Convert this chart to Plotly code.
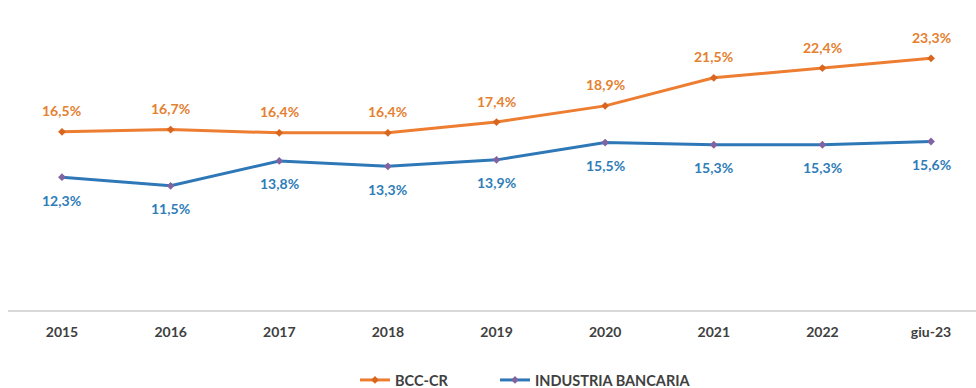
import plotly.graph_objects as go

categories = ["2015", "2016", "2017", "2018", "2019", "2020", "2021", "2022", "giu-23"]
bcc_cr = [16.5, 16.7, 16.4, 16.4, 17.4, 18.9, 21.5, 22.4, 23.3]
industria = [12.3, 11.5, 13.8, 13.3, 13.9, 15.5, 15.3, 15.3, 15.6]

ORANGE = "#ED7D31"
ORANGE_TXT = "#E5802F"
BLUE = "#2E78B7"
BLUE_TXT = "#2E7DB8"
LEG_FONT = dict(family="Lato", size=14.5, color="#404040", weight="bold")

def fmt(v):
    return f"{v:.1f}".replace(".", ",") + "%"

fig = go.Figure()
fig.add_trace(go.Scatter(
    x=categories, y=bcc_cr, name="BCC-CR", mode="lines+markers",
    line=dict(color=ORANGE, width=3),
    marker=dict(color="#D9661F", size=6, symbol="diamond"),
    legend="legend",
))
fig.add_trace(go.Scatter(
    x=categories, y=industria, name="INDUSTRIA BANCARIA", mode="lines+markers",
    line=dict(color=BLUE, width=3),
    marker=dict(color="#8064A2", size=6, symbol="diamond"),
    legend="legend2",
))

annotations = []
for i, v in enumerate(bcc_cr):
    annotations.append(dict(x=i, y=v, xref="x", yref="y", text=fmt(v), showarrow=False, yshift=21,
                            font=dict(family="Lato", size=14, color=ORANGE_TXT, weight="bold")))
for i, v in enumerate(industria):
    annotations.append(dict(x=i, y=v, xref="x", yref="y", text=fmt(v), showarrow=False, yshift=-23,
                            font=dict(family="Lato", size=14, color=BLUE_TXT, weight="bold")))

fig.update_layout(
    width=976, height=388,
    margin=dict(l=8, r=0, t=8, b=78, autoexpand=False),
    paper_bgcolor="white", plot_bgcolor="white",
    annotations=annotations,
    showlegend=True,
    legend=dict(orientation="h", xref="container", x=355 / 976, xanchor="left",
                yref="container", y=0.0206, yanchor="middle",
                font=LEG_FONT, bgcolor="rgba(0,0,0,0)"),
    legend2=dict(orientation="h", xref="container", x=495 / 976, xanchor="left",
                 yref="container", y=0.0206, yanchor="middle",
                 font=LEG_FONT, bgcolor="rgba(0,0,0,0)"),
    xaxis=dict(type="category", range=[-0.497, 8.414], showgrid=False,
               showline=True, linecolor="#D9D9D9", linewidth=2,
               ticks="outside", ticklen=8, tickcolor="rgba(0,0,0,0)",
               tickfont=dict(family="Lato", size=14, color="#404040", weight="bold"),
               zeroline=False, fixedrange=True),
    yaxis=dict(range=[0, 27.96], showgrid=False, showticklabels=False, zeroline=False,
               showline=False, fixedrange=True),
)

fig.write_html("out.html")
